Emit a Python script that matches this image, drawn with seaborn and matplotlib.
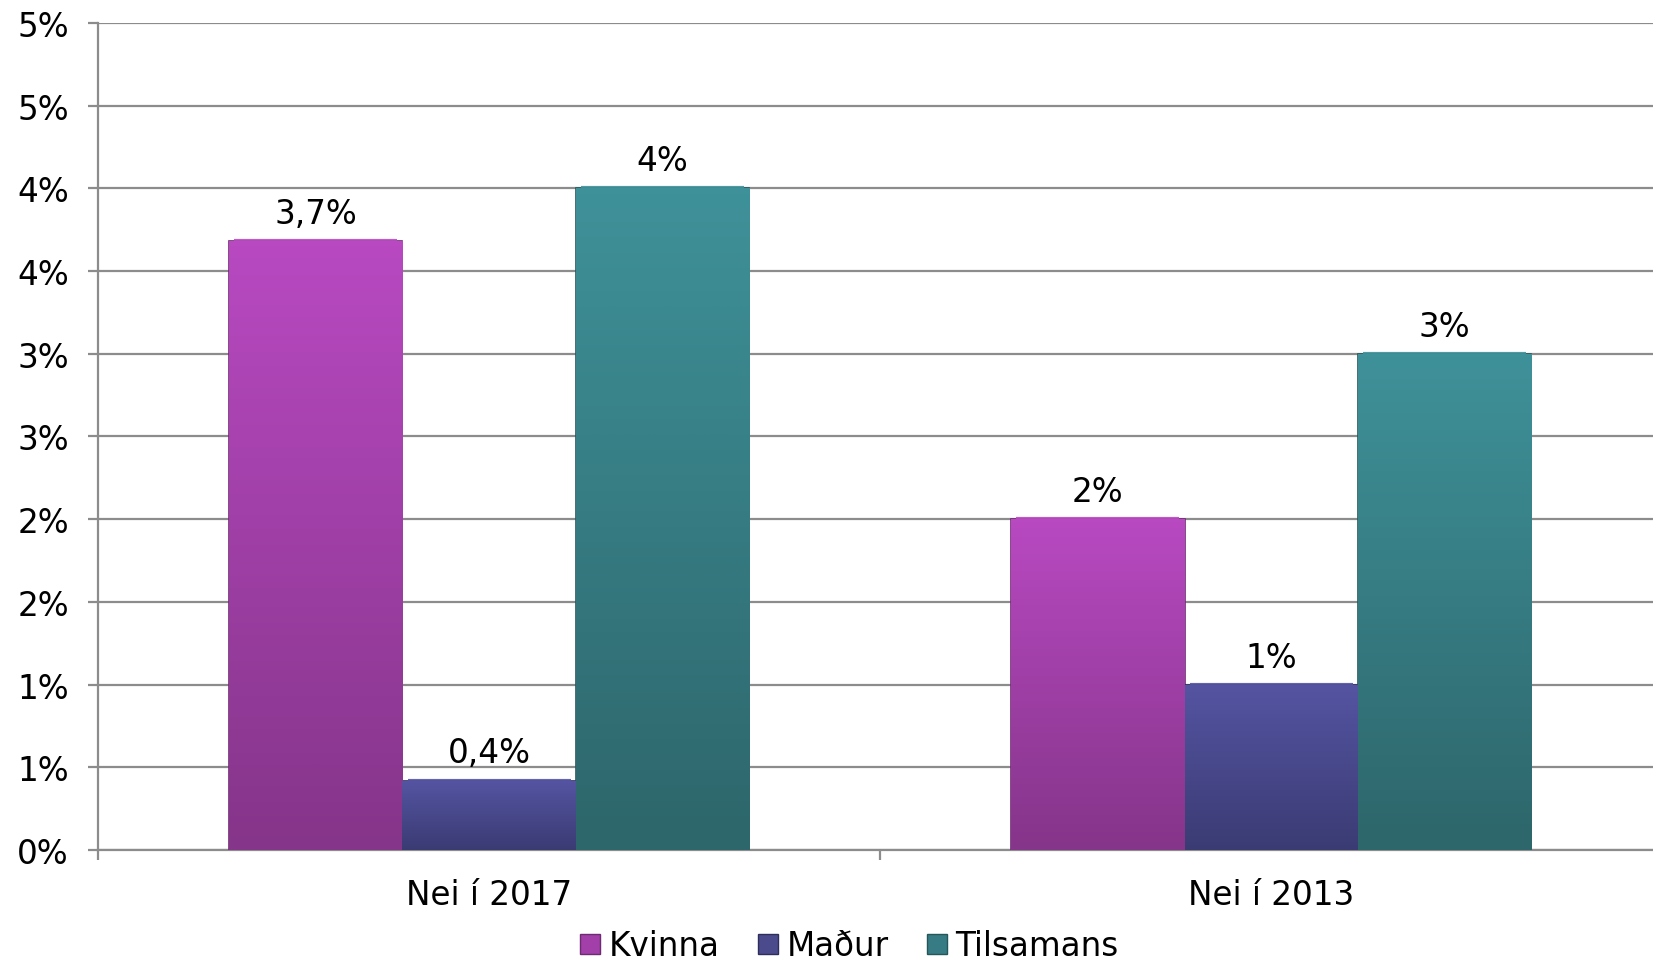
import numpy as np
import pandas as pd
import matplotlib
matplotlib.use('Agg')
import matplotlib.pyplot as plt
from matplotlib.colors import LinearSegmentedColormap
import seaborn as sns

# data (values in percent)
categories = ['Nei í 2017', 'Nei í 2013']
series = ['Kvinna', 'Maður', 'Tilsamans']
kvinna = [3.68, 2.0]
madur = [0.42, 1.0]
tilsamans = [4.0, 3.0]
bar_labels = {
    'Kvinna': ['3,7%', '2%'],
    'Maður': ['0,4%', '1%'],
    'Tilsamans': ['4%', '3%'],
}
yticks = [0, 0.5, 1, 1.5, 2, 2.5, 3, 3.5, 4, 4.5, 5]
ytick_labels = ['0%', '1%', '1%', '2%', '2%', '3%', '3%', '4%', '4%', '5%', '5%']

df = pd.DataFrame({
    'cat': categories * 3,
    'series': [s for s in series for _ in categories],
    'value': kvinna + madur + tilsamans,
})

mid_colors = {'Kvinna': '#A23FA8', 'Maður': '#4A4A8C', 'Tilsamans': '#377C84'}
top_colors = {'Kvinna': '#B849C1', 'Maður': '#5454A2', 'Tilsamans': '#3F9199'}
bot_colors = {'Kvinna': '#85358A', 'Maður': '#3B3B74', 'Tilsamans': '#2D666B'}
edge_colors = {'Kvinna': '#6E2A72', 'Maður': '#2E2E5C', 'Tilsamans': '#24565A'}

FS = 23.5

sns.set_style('white')
plt.rcParams['font.family'] = ['DejaVu Sans']
plt.rcParams['text.color'] = 'black'

fig = plt.figure(figsize=(16.53, 9.70), dpi=100)
ax = fig.add_axes([0.0593, 0.1227, 0.9407, 0.8526])

sns.barplot(data=df, x='cat', y='value', hue='series', hue_order=series,
            palette=mid_colors, width=0.665, gap=0, ax=ax, legend=False,
            saturation=1, zorder=3)

# gradient fill inside each bar
for container, s in zip(ax.containers, series):
    cmap = LinearSegmentedColormap.from_list(s, [bot_colors[s], top_colors[s]])
    for bar, lab in zip(container, bar_labels[s]):
        x0, y0 = bar.get_x(), bar.get_y()
        w, h = bar.get_width(), bar.get_height()
        bar.set_edgecolor(edge_colors[s])
        bar.set_linewidth(1.2)
        grad = np.linspace(1, 0, 100).reshape(-1, 1)
        im = ax.imshow(grad, cmap=cmap, extent=[x0, x0 + w, y0, y0 + h],
                       aspect='auto', zorder=3.5, interpolation='bicubic')
        im.set_clip_path(bar)
        # highlight bevel at the top
        ax.plot([x0 + w * 0.03, x0 + w * 0.97], [y0 + h, y0 + h],
                color=top_colors[s], lw=3, zorder=4, solid_capstyle='butt',
                alpha=0.9)
        ax.annotate(lab, (x0 + w / 2, y0 + h), xytext=(0, 13),
                    textcoords='offset points', ha='center', va='baseline',
                    fontsize=FS, color='black')

ax.set_xlim(-0.5, 1.488)
ax.set_ylim(0, 5)
ax.set_yticks(yticks)
ax.set_yticklabels(ytick_labels, fontsize=FS)
ax.yaxis.grid(True, color='#8c8c8c', lw=1.6, zorder=0)
ax.set_axisbelow(True)
ax.tick_params(axis='y', length=7, width=1.6, color='#8c8c8c', pad=14,
               direction='out', left=True, labelcolor='black')
ax.set_xticks([0, 1])
ax.set_xticklabels(categories, fontsize=FS)
ax.set_xticks([-0.5, 0.5], minor=True)
ax.tick_params(axis='x', which='major', length=0, pad=20, labelcolor='black')
ax.tick_params(axis='x', which='minor', length=7, width=1.6,
               color='#8c8c8c', direction='out', bottom=True)
ax.set_xlabel('')
ax.set_ylabel('')

for side in ['top', 'right']:
    ax.spines[side].set_visible(False)
ax.spines['left'].set_color('#8c8c8c')
ax.spines['left'].set_linewidth(1.6)
ax.spines['bottom'].set_color('#8c8c8c')
ax.spines['bottom'].set_linewidth(1.6)

handles = [plt.Line2D([], [], marker='s', ls='', markersize=14,
                      markerfacecolor=mid_colors[s],
                      markeredgecolor=edge_colors[s]) for s in series]
fig.legend(handles, series, loc='center', bbox_to_anchor=(0.513, 0.024),
           ncol=3, frameon=False, fontsize=FS, handletextpad=0.15,
           columnspacing=1.1, handlelength=0.8, borderaxespad=0,
           borderpad=0, labelcolor='black')

fig.savefig('out.png', dpi=100)
